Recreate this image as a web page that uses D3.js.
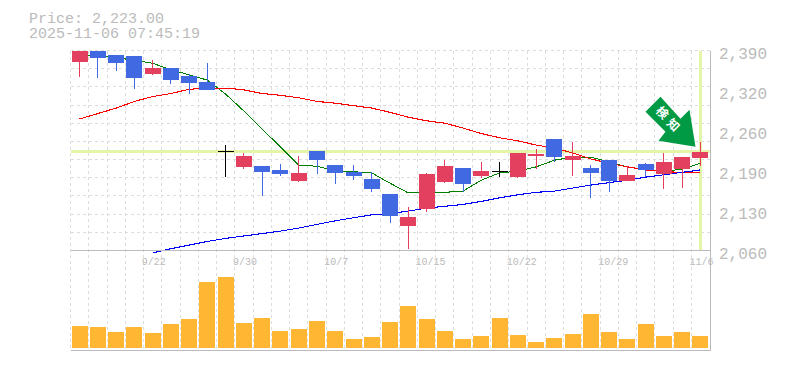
<!DOCTYPE html>
<html>
<head>
<meta charset="utf-8">
<script src="https://cdn.jsdelivr.net/npm/d3@7"></script>
<style>
  body { margin: 0; background: #fff; }
  text { font-family: "Liberation Mono", monospace; fill: #bbb; }
</style>
</head>
<body>
<div id="root"></div>
<script>
const dates = ["9/16","9/17","9/18","9/19","9/22","9/24","9/25","9/26","9/29","9/30",
  "10/1","10/2","10/3","10/6","10/7","10/8","10/9","10/10","10/14","10/15",
  "10/16","10/17","10/20","10/21","10/22","10/23","10/24","10/27","10/28","10/29",
  "10/30","10/31","11/4","11/5","11/6"];
const tickDates = ["9/22","9/30","10/7","10/15","10/22","10/29","11/6"];

const open  = [2371,2389,2383,2381,2351,2361,2348,2338,2225,2198,2199,2193,2175,2224,2201,2190,2178,2153,2100,2128,2173,2196,2183,2191,2181,2216,2244,2209,2196,2209,2175,2203,2186,2194,2213];
const high  = [2389,2389,2383,2381,2374,2361,2351,2369,2234,2221,2199,2203,2216,2224,2201,2201,2190,2153,2132,2188,2209,2196,2206,2206,2221,2227,2244,2239,2201,2209,2199,2204,2221,2214,2239];
const low   = [2346,2345,2356,2326,2350,2335,2318,2325,2181,2194,2150,2183,2173,2186,2170,2176,2157,2105,2062,2123,2171,2157,2180,2181,2180,2194,2206,2183,2147,2157,2175,2181,2161,2163,2199];
const close = [2389,2378,2369,2345,2361,2341,2336,2325,2225,2216,2190,2186,2188,2209,2188,2183,2161,2117,2115,2186,2199,2170,2191,2191,2221,2219,2214,2216,2188,2175,2185,2193,2206,2214,2223];

const maShort = [2383,2381,2378,2374,2369,2358,2350,2341,2318,2290,2260,2231,2201,2199,2191,2190,2188,2171,2155,2155,2156,2158,2176,2188,2191,2198,2209,2214,2214,2206,2198,2193,2191,2194,2204];
const maMid   = [2277,2286,2295,2306,2314,2319,2326,2328,2328,2325,2319,2316,2312,2306,2303,2299,2295,2288,2280,2274,2270,2262,2253,2246,2241,2234,2229,2221,2211,2204,2198,2193,2190,2189,2188];
const maLong  = [null,null,null,null,2056,2063,2069,2075,2080,2084,2088,2092,2097,2103,2109,2114,2119,2121,2125,2130,2133,2136,2141,2147,2152,2156,2158,2163,2168,2172,2176,2181,2185,2189,2193];

const volume = [22,21,16,21,15,24,29,66,71,25,30,17,19,27,17,9,11,26,42,29,17,9,12,30,13,6,10,14,34,16,9,24,12,16,12];

const priceTicks = [2060,2126,2192,2258,2324,2390];
const currentPrice = 2223;

const svgWidth = 785, svgHeight = 370;
const margin = {left: 70.5, right: 709.6, top: 50.5, priceBottom: 250.5, volTop: 258, volBottom: 348, bottom: 350.5};

const svg = d3.select("#root")
  .append("svg")
  .attr("width", svgWidth)
  .attr("height", svgHeight)
  .style("display", "block");

// scales
const x = d3.scaleBand().domain(dates).range([margin.left, margin.right]);
const y = d3.scaleLinear().domain([2060, 2390]).range([margin.priceBottom, margin.top]);
const yVol = d3.scaleLinear().domain([0, 90]).range([margin.volBottom, margin.volTop]);
const cx = d => x(d) + x.bandwidth() / 2;
const bodyWidth = 16;

// title
svg.append("text").attr("x", 29).attr("y", 23).style("font-size", "15px").text("Price: 2,223.00");
svg.append("text").attr("x", 29).attr("y", 38).style("font-size", "15px").text("2025-11-06 07:45:19");

// grid
const grid = svg.append("g")
  .attr("stroke", "#ddd")
  .attr("stroke-dasharray", "3,3")
  .attr("shape-rendering", "crispEdges");

grid.selectAll(".h")
  .data(d3.range(2060, 2391, 30))
  .join("line")
  .attr("x1", margin.left).attr("x2", margin.right)
  .attr("y1", d => y(d)).attr("y2", d => y(d));

grid.selectAll(".v")
  .data(dates)
  .join("line")
  .attr("x1", d => x(d)).attr("x2", d => x(d))
  .attr("y1", margin.top).attr("y2", margin.bottom);

// current price cross
svg.append("line")
  .attr("x1", margin.left).attr("x2", margin.right + 1)
  .attr("y1", y(currentPrice)).attr("y2", y(currentPrice))
  .attr("stroke", "#e4f5a8").attr("stroke-width", 3)
  .attr("shape-rendering", "crispEdges");

svg.append("line")
  .attr("x1", cx("11/6")).attr("x2", cx("11/6"))
  .attr("y1", margin.top).attr("y2", margin.priceBottom)
  .attr("stroke", "#e4f5a8").attr("stroke-width", 3)
  .attr("shape-rendering", "crispEdges");

// moving averages
const line = d3.line()
  .defined(d => d[1] !== null)
  .x(d => cx(d[0]))
  .y(d => y(d[1]));

function drawLine(values, color, width) {
  svg.append("path")
    .datum(dates.map((d, i) => [d, values[i]]))
    .attr("fill", "none")
    .attr("stroke", color)
    .attr("stroke-width", width)
    .attr("shape-rendering", "crispEdges")
    .attr("d", line);
}
drawLine(maShort, "#008000", 1);
drawLine(maMid, "#ff0000", 1.1);
drawLine(maLong, "#0000ff", 1.1);

// candles
const candleColor = i => close[i] > open[i] ? "#e3405f" : (close[i] < open[i] ? "#4169e1" : "#000");

const candles = svg.append("g")
  .attr("shape-rendering", "crispEdges")
  .selectAll("g")
  .data(dates)
  .join("g");

candles.append("line")
  .attr("x1", d => cx(d)).attr("x2", d => cx(d))
  .attr("y1", (d, i) => y(high[i]))
  .attr("y2", (d, i) => y(low[i]))
  .attr("stroke", (d, i) => candleColor(i))
  .attr("stroke-width", 1);

candles.append("rect")
  .attr("x", d => cx(d) - bodyWidth / 2)
  .attr("y", (d, i) => y(Math.max(open[i], close[i])))
  .attr("width", bodyWidth)
  .attr("height", (d, i) => Math.max(1, Math.abs(y(open[i]) - y(close[i]))))
  .attr("fill", (d, i) => candleColor(i));

// volume
svg.append("g")
  .attr("shape-rendering", "crispEdges")
  .selectAll("rect")
  .data(dates)
  .join("rect")
  .attr("x", d => cx(d) - bodyWidth / 2)
  .attr("y", (d, i) => yVol(volume[i]))
  .attr("width", bodyWidth)
  .attr("height", (d, i) => yVol(0) - yVol(volume[i]))
  .attr("fill", "#ffb733");

// frame
const frame = svg.append("g")
  .attr("stroke", "#bbb")
  .attr("shape-rendering", "crispEdges");
frame.append("line").attr("x1", margin.left).attr("x2", 710.5).attr("y1", margin.priceBottom).attr("y2", margin.priceBottom);
frame.append("line").attr("x1", margin.left).attr("x2", 710.5).attr("y1", margin.bottom).attr("y2", margin.bottom);
frame.append("line").attr("x1", 710.5).attr("x2", 710.5).attr("y1", margin.top).attr("y2", margin.bottom);

// axes
const xAxis = d3.axisBottom(x).tickValues(tickDates).tickSize(0);
const gx = svg.append("g")
  .attr("transform", `translate(0,${margin.priceBottom})`)
  .call(xAxis);
gx.select(".domain").remove();
gx.selectAll("text")
  .attr("text-anchor", "start")
  .attr("x", -11)
  .attr("y", 7)
  .attr("dy", "0.71em")
  .style("font-size", "10px");

const yAxis = d3.axisRight(y)
  .tickValues(priceTicks)
  .tickSize(0)
  .tickFormat(d => d3.format(",")(Math.round(d / 10) * 10));
const gy = svg.append("g")
  .attr("transform", "translate(719,0)")
  .call(yAxis);
gy.select(".domain").remove();
gy.selectAll("text")
  .attr("x", 0)
  .attr("dy", "0.5em")
  .style("font-size", "16px");

// signal arrow, hangs off the last candle
const tipX = cx("11/6") - 5, tipY = y(currentPrice) - 5;
const arrow = svg.append("g").attr("transform", `translate(${tipX},${tipY})`);
arrow.append("path")
  .attr("d", "M-35,-50L-50,-35L-30,-15L-37,-6L0,0L-6,-37L-15,-28Z")
  .attr("fill", "#009944");
[["検", -33.3, -34], ["知", -22.3, -21.7]].forEach(k => {
  arrow.append("text")
    .attr("transform", `translate(${k[1]},${k[2]}) rotate(45)`)
    .attr("text-anchor", "middle")
    .attr("dy", "0.35em")
    .style("font-family", "'Noto Sans CJK JP'")
    .style("font-weight", "bold")
    .style("font-size", "12px")
    .style("fill", "#fff")
    .text(k[0]);
});
</script>
</body>
</html>
